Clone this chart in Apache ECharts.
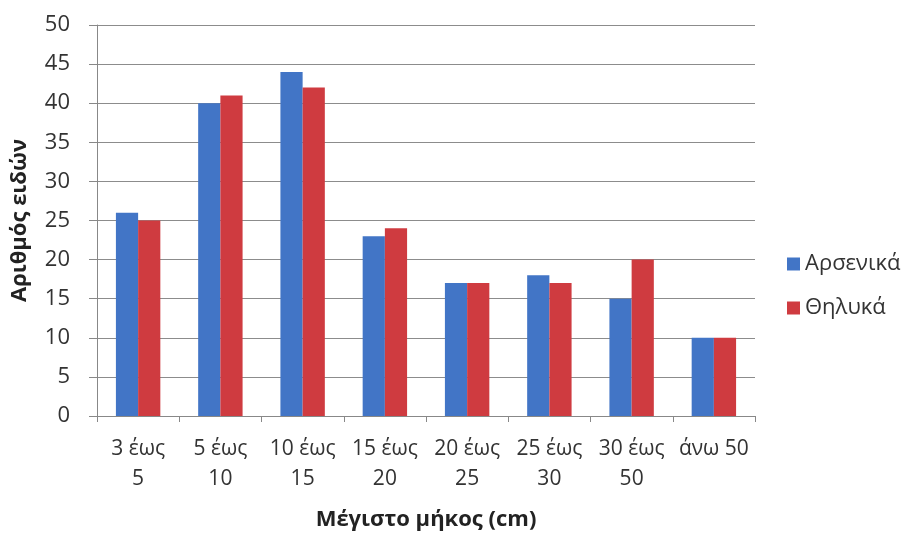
<!DOCTYPE html>
<html><head><meta charset="utf-8">
<script src="https://cdn.jsdelivr.net/npm/echarts@6/dist/echarts.min.js"></script>
<style>html,body{margin:0;padding:0;background:#fff}#c{width:909px;height:535px}</style>
</head><body><div id="c"></div>
<script>
const categories = ['3 έως\n5', '5 έως\n10', '10 έως\n15', '15 έως\n20', '20 έως\n25', '25 έως\n30', '30 έως\n50', 'άνω 50'];
const males = [26, 40, 44, 23, 17, 18, 15, 10];
const females = [25, 41, 42, 24, 17, 17, 20, 10];
const yTicks = {min: 0, max: 50, interval: 5};

const chart = echarts.init(document.getElementById('c'));
const font = '"Open Sans", "DejaVu Sans", sans-serif';
chart.setOption({
  animation: false,
  textStyle: {fontFamily: font},
  grid: {left: 97, right: 154, top: 25, bottom: 119, containLabel: false, outerBoundsMode: 'none'},
  legend: {
    orient: 'vertical', left: 782, top: 248, itemGap: 22,
    itemWidth: 13, itemHeight: 13, icon: 'rect',
    textStyle: {fontSize: 22, color: '#333', fontFamily: font},
    data: ['Αρσενικά', 'Θηλυκά']
  },
  xAxis: {
    type: 'category', data: categories,
    name: 'Μέγιστο μήκος (cm)', nameLocation: 'middle', nameGap: 93,
    nameTextStyle: {fontSize: 22, fontWeight: 'bold', color: '#222', fontFamily: font},
    axisLine: {lineStyle: {color: '#888'}},
    axisTick: {show: true, alignWithLabel: false, length: 6, lineStyle: {color: '#888'}},
    axisLabel: {fontSize: 21, color: '#333', lineHeight: 30, margin: 18, interval: 0, fontFamily: font}
  },
  yAxis: {
    type: 'value', min: yTicks.min, max: yTicks.max, interval: yTicks.interval,
    name: 'Αριθμός ειδών', nameLocation: 'middle', nameGap: 66,
    nameTextStyle: {fontSize: 22, fontWeight: 'bold', color: '#222', fontFamily: font},
    axisLine: {show: true, lineStyle: {color: '#888'}},
    axisTick: {show: true, length: 8, lineStyle: {color: '#888'}},
    axisLabel: {fontSize: 22, color: '#333', margin: 27, fontFamily: font},
    splitLine: {lineStyle: {color: '#8c8c8c', width: 1}}
  },
  series: [
    {name: 'Αρσενικά', type: 'bar', data: males, barGap: '0%', barCategoryGap: '46%',
     itemStyle: {color: '#4275C6'}},
    {name: 'Θηλυκά', type: 'bar', data: females, barGap: '0%', barCategoryGap: '46%',
     itemStyle: {color: '#CF3B40'}}
  ]
});
</script></body></html>
